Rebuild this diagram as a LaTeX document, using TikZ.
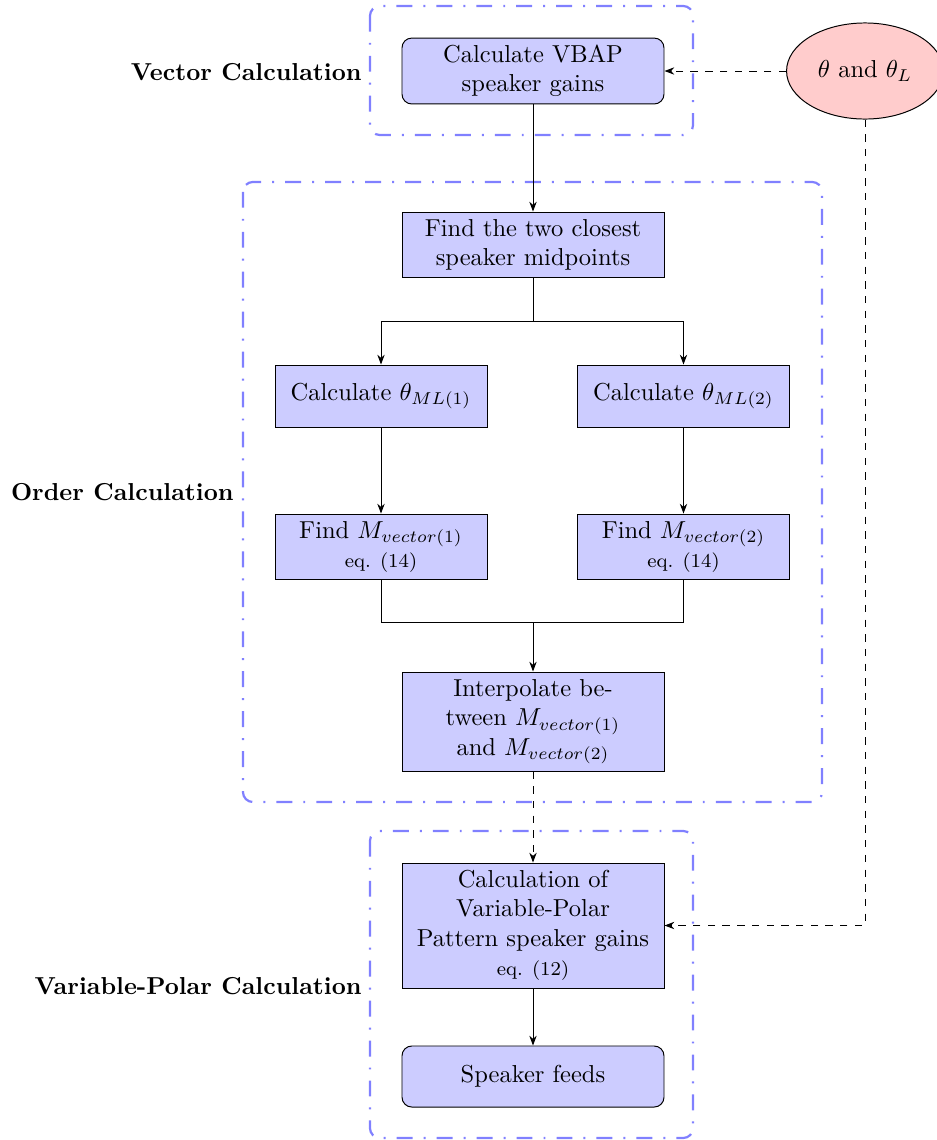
\documentclass[tikz,border=0pt]{standalone}
\usetikzlibrary{arrows.meta,shapes.geometric}
\begin{document}
\begin{tikzpicture}[x=0.408pt,y=-0.408pt,
  blockbox/.style={draw, fill=blue!20, align=center, inner sep=1pt, line width=0.4pt},
  roundbox/.style={blockbox, rounded corners=4pt},
  wide/.style={minimum width=106.9pt},
  narrow/.style={minimum width=86.5pt},
  startnode/.style={draw, ellipse, fill=red!20, minimum width=64pt, minimum height=39.2pt, inner sep=0pt},
  groupbox/.style={draw=blue!50, line width=0.9pt, rounded corners=4pt, dash pattern=on 6.5pt off 4.5pt on 0.8pt off 4.5pt},
  grouplabel/.style={anchor=east, font=\bfseries, inner sep=0pt},
  arrow/.style={-{Stealth[length=4pt,width=3pt]}, line width=0.4pt},
  plain/.style={line width=0.4pt},
  eqtext/.style={font=\footnotesize}
]
\useasboundingbox (0,0) rectangle (937,1140);

% group frames
\draw[groupbox] (370,6) rectangle (693,135);
\draw[groupbox] (243,182) rectangle (822,802);
\draw[groupbox] (370,831) rectangle (693,1138);

% group labels
\node[grouplabel] (lvec) at (362,72) {Vector Calculation};
\node[grouplabel] (lord) at (234,492) {Order Calculation};
\node[grouplabel] (lvar) at (362,986) {Variable-Polar Calculation};

% nodes
\node[roundbox, wide, minimum height=26.9pt] (vbap) at (533,71) {Calculate VBAP\\speaker gains};
\node[startnode] (theta) at (865,71) {$\theta$ and $\theta_L$};
\node[blockbox, wide, minimum height=26.9pt] (closest) at (533,245) {Find the two closest\\speaker midpoints};
\node[blockbox, narrow, minimum height=25.3pt] (ml1) at (381,396) {Calculate $\theta_{ML(1)}$};
\node[blockbox, narrow, minimum height=25.3pt] (ml2) at (683.5,396) {Calculate $\theta_{ML(2)}$};
\node[blockbox, narrow, minimum height=26.9pt] (m1) at (381,547) {Find $M_{vector(1)}$\\{\footnotesize eq. (14)}};
\node[blockbox, narrow, minimum height=26.9pt] (m2) at (683.5,547) {Find $M_{vector(2)}$\\{\footnotesize eq. (14)}};
\node[blockbox, wide, minimum height=40.4pt] (interp) at (533,721.5) {Interpolate be-\\tween $M_{vector(1)}$\\and $M_{vector(2)}$};
\node[blockbox, wide, minimum height=51pt] (vp) at (533,925.5) {Calculation of\\Variable-Polar\\Pattern speaker gains\\{\footnotesize eq. (12)}};
\node[roundbox, wide, minimum height=24.9pt] (feeds) at (533,1076.5) {Speaker feeds};

\coordinate (split) at (533,321);
\coordinate (join) at (533,622);

% connectors
\draw[arrow] (vbap) -- (closest);
\draw[plain] (closest) -- (split);
\draw[arrow] (split) -| (ml1);
\draw[arrow] (split) -| (ml2);
\draw[arrow] (ml1) -- (m1);
\draw[arrow] (ml2) -- (m2);
\draw[plain] (m1) |- (join);
\draw[plain] (m2) |- (join);
\draw[arrow] (join) -- (interp);
\draw[arrow, dashed] (interp) -- (vp);
\draw[arrow] (vp) -- (feeds);
\draw[arrow, dashed] (theta) -- (vbap);
\draw[arrow, dashed] (theta) |- (vp);
\end{tikzpicture}
\end{document}
